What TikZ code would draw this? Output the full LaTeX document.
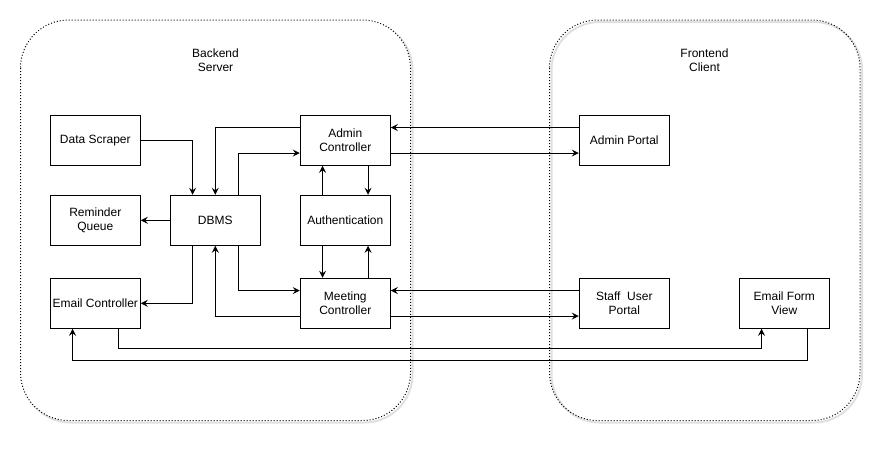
\documentclass[tikz,border=0pt]{standalone}
\usepackage{fontspec}
\setmainfont{Liberation Sans}
\usetikzlibrary{arrows.meta,calc}

\begin{document}
\begin{tikzpicture}[x=1pt,y=-1pt,
    box/.style={draw, line width=1pt, minimum width=90pt, minimum height=50pt,
        align=center, inner sep=1pt, font=\fontsize{12}{14}\selectfont},
    arr/.style={-{Stealth[length=7pt,width=7pt,inset=2.5pt]}, line width=1pt},
    groupframe/.style={line width=1pt, dash pattern=on 1pt off 2pt, rounded corners=48pt},
    frameshadow/.style={line width=2pt, draw=black!12, rounded corners=48pt},
    title/.style={align=center, font=\fontsize{12}{14}\selectfont}]
    \useasboundingbox (0,0) rectangle (887,448);

    % containers
    \draw[frameshadow] (22.5,22) rectangle (412.5,422.5);
    \draw[frameshadow] (551.5,22) rectangle (862,422.5);
    \draw[groupframe, fill=white] (20.5,20) rectangle (410.5,420.5);
    \draw[groupframe] (549.5,20) rectangle (860,420.5);
    \node[title] (bs) at (215.5,60) {Backend\\Server};
    \node[title] (fc) at (704.5,60) {Frontend\\Client};

    % backend
    \node[box] (ds) at (95.3,140.3) {Data Scraper};
    \node[box] (ac) at (345.3,140.3) {Admin\\Controller};
    \node[box] (rq) at (95.3,220.3) {Reminder\\Queue};
    \node[box] (db) at (215.3,220.3) {DBMS};
    \node[box] (au) at (345.3,220.3) {Authentication};
    \node[box] (ec) at (95.3,303.3) {Email Controller};
    \node[box] (mc) at (345.3,303.3) {Meeting\\Controller};

    % frontend
    \node[box] (ap) at (624.3,140.3) {Admin Portal};
    \node[box] (sp) at (624.3,303.3) {Staff\ \ User\\Portal};
    \node[box] (ef) at (784.3,303.3) {Email Form\\View};

    \draw[arr] (ds.east) -| ($(db.north west)!0.25!(db.north east)$);
    \draw[arr] ($(ac.north west)!0.25!(ac.south west)$) -| (db.north);
    \draw[arr] ($(db.north west)!0.75!(db.north east)$) |- ($(ac.north west)!0.75!(ac.south west)$);
    \draw[arr] (db.west) -- (rq.east);
    \draw[arr] ($(au.north west)!0.25!(au.north east)$) -- ($(ac.south west)!0.25!(ac.south east)$);
    \draw[arr] ($(ac.south west)!0.75!(ac.south east)$) -- ($(au.north west)!0.75!(au.north east)$);
    \draw[arr] ($(au.south west)!0.25!(au.south east)$) -- ($(mc.north west)!0.25!(mc.north east)$);
    \draw[arr] ($(mc.north west)!0.75!(mc.north east)$) -- ($(au.south west)!0.75!(au.south east)$);
    \draw[arr] ($(db.south west)!0.25!(db.south east)$) |- (ec.east);
    \draw[arr] ($(mc.north west)!0.75!(mc.south west)$) -| (db.south);
    \draw[arr] ($(db.south west)!0.75!(db.south east)$) |- ($(mc.north west)!0.25!(mc.south west)$);

    \draw[arr] ($(ap.north west)!0.25!(ap.south west)$) -- ($(ac.north east)!0.25!(ac.south east)$);
    \draw[arr] ($(ac.north east)!0.75!(ac.south east)$) -- ($(ap.north west)!0.75!(ap.south west)$);
    \draw[arr] ($(sp.north west)!0.25!(sp.south west)$) -- ($(mc.north east)!0.25!(mc.south east)$);
    \draw[arr] ($(mc.north east)!0.75!(mc.south east)$) -- ($(sp.north west)!0.75!(sp.south west)$);
    \draw[arr] ($(ec.south west)!0.75!(ec.south east)$) -- ++(0,20) -| ($(ef.south west)!0.25!(ef.south east)$);
    \draw[arr] ($(ef.south west)!0.75!(ef.south east)$) -- ++(0,32) -| ($(ec.south west)!0.25!(ec.south east)$);
\end{tikzpicture}
\end{document}
